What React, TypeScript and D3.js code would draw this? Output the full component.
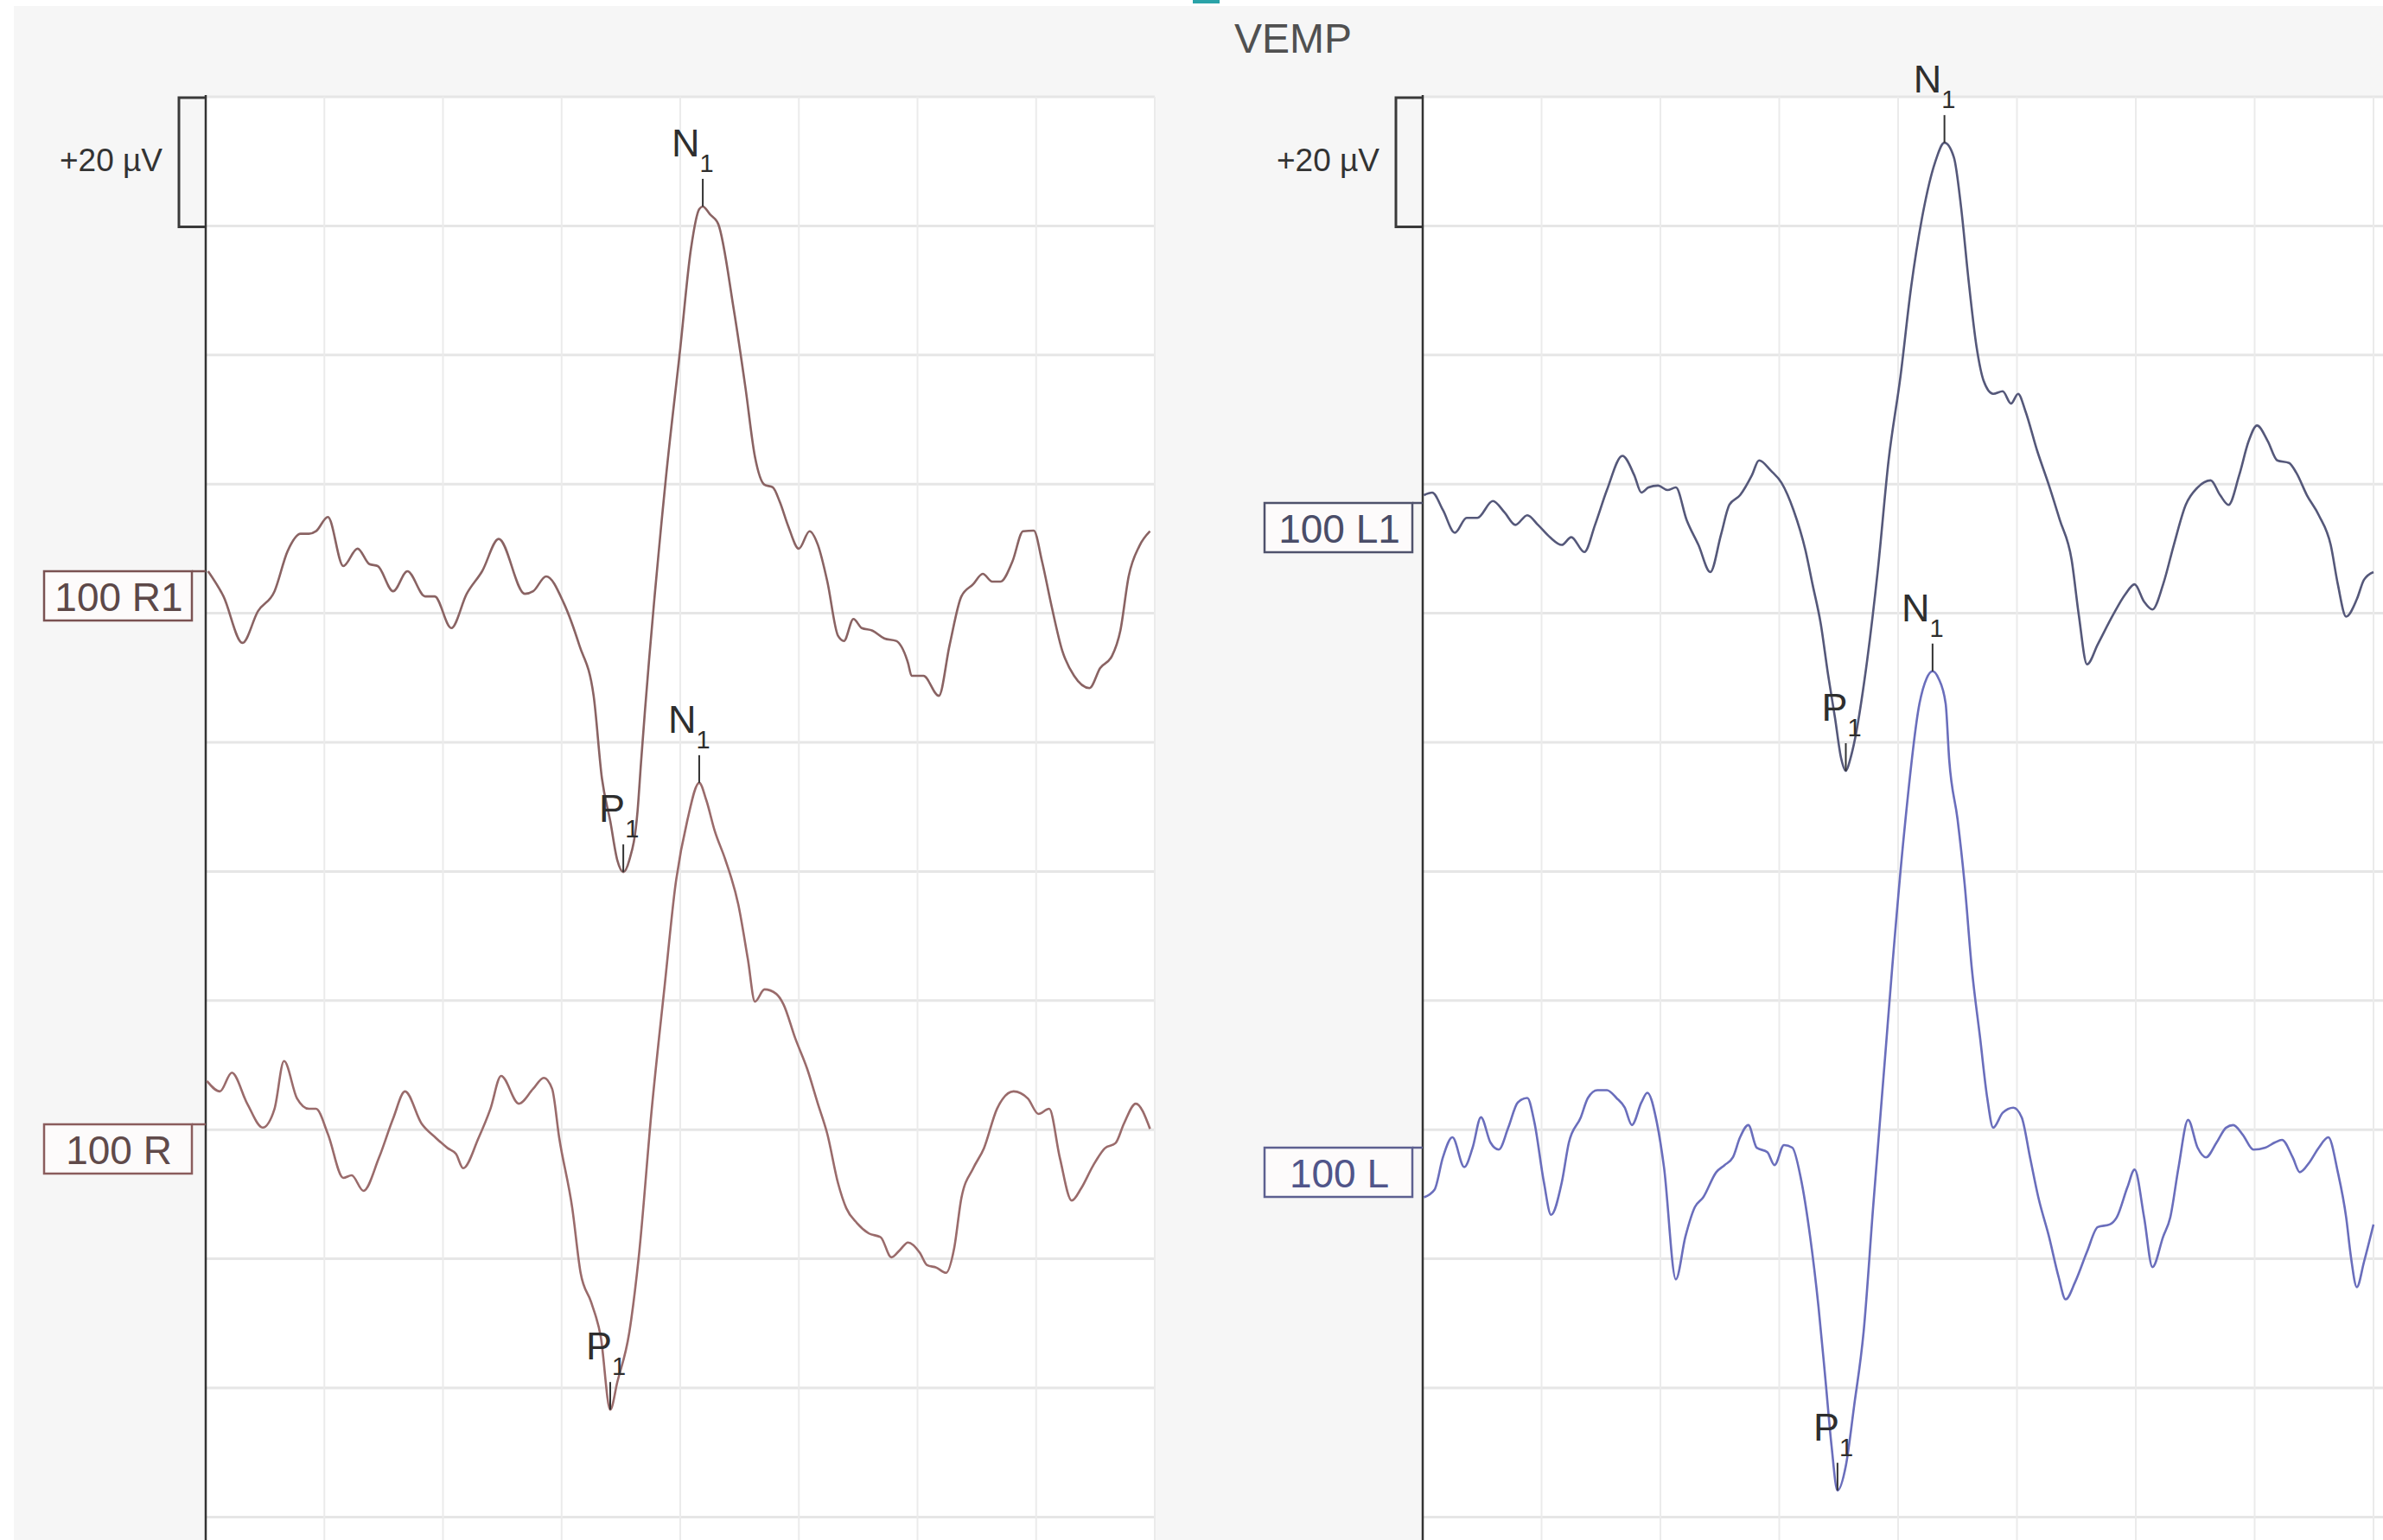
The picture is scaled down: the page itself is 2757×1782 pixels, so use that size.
import React from 'react';
import * as d3 from 'd3';

// traces: [latency ms, amplitude µV]
const traceR1: [number, number][] = [
  [0.2, 0], [1.5, -3.9], [3.1, -11.1], [4.4, -6.2], [5.8, -3.1], [6.9, 3.1], [8.0, 5.8], [8.7, 5.8], [9.3, 6.2],
  [10.3, 8.4], [11.6, 0.8], [12.8, 3.5], [13.8, 1.1], [14.5, 0.8], [15.8, -3.1], [17.0, 0], [18.5, -3.9], [19.3, -3.9],
  [20.7, -8.8], [22.0, -3.5], [23.3, 0], [24.7, 5.0], [26.9, -3.5], [27.6, -3.1], [28.7, -0.8], [30.2, -5.0],
  [31.5, -11.5], [32.7, -19.3], [33.4, -32.1], [34.1, -38.7], [34.7, -44.8], [35.2, -46.6], [35.7, -44.8],
  [36.4, -37.2], [36.7, -29.5], [38.8, 14.6], [40.0, 34.5], [40.9, 49.9], [41.6, 56.1], [41.9, 56.5], [42.5, 55.3],
  [43.2, 53.8], [44.5, 40.7], [45.5, 28.4], [46.3, 17.7], [47.1, 13.4], [47.8, 13.0], [48.4, 10.7], [49.1, 7.0],
  [50.0, 3.5], [50.9, 6.2], [51.6, 4.1], [52.4, -1.6], [53.3, -10.0], [53.8, -10.8], [54.6, -7.4], [55.3, -8.8],
  [56.2, -9.2], [57.2, -10.4], [58.2, -10.8], [59.2, -14.2], [59.5, -16.2], [60.5, -16.2], [61.8, -19.3],
  [62.7, -11.5], [63.7, -3.9], [64.7, -2.0], [65.5, -0.4], [66.3, -1.6], [67.0, -1.6], [68.0, 1.5], [68.9, 6.2],
  [69.8, 6.3], [70.5, 1.5], [71.3, -5.4], [72.2, -12.3], [73.2, -16.2], [74.5, -18.1], [75.4, -15.0], [76.4, -13.1],
  [77.1, -9.2], [77.8, -0.8], [78.7, 3.9], [79.6, 6.2],
];

const traceR: [number, number][] = [
  [0.1, 6.7], [1.2, 5.1], [2.2, 8.0], [3.5, 3.2], [4.8, -0.5], [5.8, 2.4], [6.6, 9.8], [7.7, 4.0], [8.7, 2.4],
  [9.3, 2.4], [10.3, -1.5], [11.6, -8.3], [12.3, -7.9], [13.3, -10.3], [14.6, -5.2], [15.8, 0.9], [16.8, 5.1],
  [18.2, 0.1], [19.4, -2.1], [20.4, -3.7], [21.1, -4.6], [21.7, -6.8], [23.0, -2.1], [24.0, 2.4], [24.9, 7.5],
  [26.4, 3.2], [27.6, 5.5], [28.5, 7.2], [29.2, 5.5], [29.8, -2.1], [30.9, -13.0], [31.6, -23.0], [32.5, -27.6],
  [33.3, -32.9], [34.1, -44.2], [34.7, -39.9], [35.7, -32.3], [36.5, -20.6], [37.6, 2.4], [38.7, 21.7],
  [39.6, 37.1], [40.6, 47.1], [41.6, 52.9], [42.2, 50.2], [42.9, 45.5], [43.8, 41.0], [44.9, 34.0], [45.7, 25.6],
  [46.3, 19.0], [47.1, 20.9], [48.1, 20.2], [48.7, 18.6], [49.7, 13.3], [50.7, 8.6], [51.6, 3.2], [52.4, -1.5],
  [53.3, -9.1], [54.0, -13.0], [54.9, -15.3], [55.9, -16.9], [56.9, -17.5], [57.8, -20.6], [58.5, -19.5],
  [59.2, -18.3], [60.2, -19.9], [60.8, -21.8], [61.6, -22.2], [62.4, -23.0], [63.1, -19.1], [63.7, -11.4],
  [64.7, -6.8], [65.6, -3.7], [66.7, 2.4], [68.1, 5.1], [69.3, 4.0], [70.2, 1.6], [71.1, 2.4], [72.0, -5.2],
  [73.0, -11.8], [73.8, -9.9], [74.8, -6.4], [75.8, -3.7], [76.7, -2.9], [77.4, 0.1], [78.4, 3.2], [79.6, -0.7],
];

const traceL1: [number, number][] = [
  [0.1, 1.2], [0.8, 1.6], [1.7, -1.1], [2.7, -4.6], [3.7, -2.3], [4.6, -2.3], [5.9, 0.3], [6.9, -1.5], [7.8, -3.4],
  [8.8, -1.9], [9.7, -3.4], [10.7, -5.3], [11.7, -6.5], [12.5, -5.3], [13.6, -7.6], [14.5, -3.4], [15.5, 2.0],
  [16.8, 7.3], [17.8, 4.3], [18.4, 1.6], [19.0, 2.4], [19.8, 2.7], [20.6, 2.0], [21.3, 2.4], [22.2, -2.6],
  [23.2, -6.5], [24.2, -10.7], [25.1, -4.9], [25.8, -0.3], [26.7, 1.2], [27.7, 4.3], [28.3, 6.6], [29.3, 5.0],
  [30.2, 3.1], [31.2, -1.1], [32.2, -7.3], [32.8, -12.6], [33.5, -18.8], [34.1, -26.5], [34.7, -33.4],
  [35.2, -39.5], [35.6, -41.5], [36.0, -39.5], [36.3, -37.2], [37.3, -25.7], [38.3, -10.3], [39.2, 6.6],
  [40.2, 19.6], [41.1, 33.5], [42.1, 45.0], [43.1, 52.7], [43.9, 55.8], [44.7, 53.5], [45.3, 45.8], [45.9, 35.0],
  [46.6, 24.2], [47.2, 18.9], [48.0, 16.9], [48.8, 17.3], [49.5, 15.4], [50.1, 16.9], [50.7, 14.3], [51.7, 8.1],
  [52.7, 2.7], [53.6, -2.6], [54.6, -8.8], [55.2, -17.3], [55.9, -25.0], [56.8, -21.9], [58.1, -17.3],
  [59.1, -14.2], [59.9, -12.6], [60.7, -15.3], [61.4, -16.5], [62.3, -12.6], [63.2, -6.5], [64.2, -0.3],
  [65.2, 2.4], [66.3, 3.5], [67.1, 1.2], [67.8, -0.3], [68.7, 4.3], [69.5, 9.6], [70.2, 12.0], [71.1, 9.6],
  [71.9, 6.6], [72.9, 6.2], [73.5, 4.7], [74.4, 1.2], [75.4, -1.9], [76.4, -6.5], [77.0, -12.6], [77.7, -17.6],
  [78.6, -14.9], [79.2, -11.9], [80.0, -10.7],
];

const traceL: [number, number][] = [
  [0.1, -7.7], [1.0, -6.5], [1.7, -1.5], [2.5, 1.6], [3.5, -3.0], [4.2, 0.0], [4.9, 4.7], [5.7, 0.8], [6.4, -0.3],
  [7.2, 3.1], [8.0, 7.0], [8.8, 7.7], [9.4, 3.9], [10.2, -5.4], [10.8, -10.4], [11.7, -5.4], [12.3, 0.8],
  [13.3, 4.7], [13.9, 7.7], [14.7, 8.9], [15.5, 8.9], [16.3, 7.7], [17.0, 6.2], [17.6, 3.5], [18.4, 7.0],
  [18.9, 8.5], [19.7, 3.9], [20.3, -3.0], [21.3, -20.4], [22.1, -13.8], [22.9, -9.2], [23.6, -7.7], [24.7, -3.8],
  [25.4, -2.7], [26.1, -1.5], [26.7, 1.6], [27.4, 3.5], [28.1, 0.0], [29.0, -0.7], [29.6, -2.7], [30.4, 0.4],
  [31.1, 0.0], [31.8, -4.6], [32.6, -13.8], [33.3, -24.6], [33.9, -36.2], [34.4, -46.2], [34.9, -53.1],
  [35.6, -49.3], [36.3, -40.0], [37.1, -28.5], [37.9, -9.2], [38.9, 13.9], [39.5, 27.8], [40.5, 48.6],
  [41.8, 68.8], [42.4, 72.7], [42.9, 73.8], [43.4, 72.7], [44.0, 68.8], [44.3, 60.1], [45.0, 50.9], [45.6, 40.8],
  [46.2, 27.8], [46.9, 17.0], [47.5, 7.7], [48.0, 3.1], [48.8, 5.4], [49.7, 6.2], [50.4, 4.7], [51.1, -1.5],
  [51.8, -7.7], [52.7, -13.8], [53.5, -20.0], [54.1, -23.5], [54.9, -20.8], [55.9, -16.1], [56.8, -12.3],
  [57.8, -11.9], [58.4, -10.8], [59.3, -6.1], [59.9, -3.4], [60.7, -10.8], [61.4, -18.5], [62.3, -13.8],
  [62.9, -10.8], [63.6, -3.0], [64.4, 4.3], [65.2, 0.0], [65.9, -1.5], [66.8, 0.8], [67.6, 3.1], [68.2, 3.5],
  [69.0, 2.0], [69.9, -0.3], [70.9, 0.0], [71.7, 0.8], [72.3, 1.2], [73.2, -1.5], [73.8, -3.8], [74.6, -2.3],
  [75.4, 0.0], [76.2, 1.6], [77.0, -3.8], [77.7, -10.8], [78.1, -16.9], [78.6, -21.6], [79.2, -17.7],
  [80.0, -11.9],
];

// peak markers: [letter, latency ms, amplitude µV]
const peaksR1: [string, number, number][] = [['N', 41.9, 56.5], ['P', 35.2, -46.6]];
const peaksR: [string, number, number][] = [['N', 41.6, 52.9], ['P', 34.1, -44.2]];
const peaksL1: [string, number, number][] = [['N', 43.9, 55.8], ['P', 35.6, -41.5]];
const peaksL: [string, number, number][] = [['N', 42.9, 73.8], ['P', 34.9, -53.1]];

const channelNames = ['100 R1', '100 R', '100 L1', '100 L'];
const title = 'VEMP';
const calLabel = '+20 µV';
const calValue = 20; // µV per grid division
const timeTicks = [0, 10, 20, 30, 40, 50, 60, 70, 80];

const W = 2757;
const H = 1782;
const TOP = 112;
const DIV = 149.4; // px per 20 µV
const FONT = '"Liberation Sans", Arial, Helvetica, sans-serif';

const panels = [
  { x0: 238, x1: 1336, edge: 1336, boxX: 51 },
  { x0: 1646, x1: 2746, edge: W, boxX: 1463 },
];

const channels = [
  { name: channelNames[0], data: traceR1, peaks: peaksR1, panel: 0, base: 661, color: '#8a6363', box: '#7a5252', text: '#5c4848' },
  { name: channelNames[1], data: traceR, peaks: peaksR, panel: 0, base: 1301, color: '#9a6b6b', box: '#8a5c5c', text: '#604a4a' },
  { name: channelNames[2], data: traceL1, peaks: peaksL1, panel: 1, base: 582, color: '#55587a', box: '#4f526c', text: '#4a4d68' },
  { name: channelNames[3], data: traceL, peaks: peaksL, panel: 1, base: 1328, color: '#6a6ebc', box: '#5d6090', text: '#50558a' },
];

const gridRows = d3.range(0, 12);

export default function App() {
  const xScales = panels.map(p => d3.scaleLinear().domain([0, 80]).range([p.x0, p.x1]));

  return (
    <svg width={W} height={H} style={{ position: 'absolute', left: 0, top: 0, display: 'block' }} fontFamily={FONT}>
      <rect x={0} y={0} width={W} height={H} fill="#ffffff" />
      <rect x={16} y={7} width={W - 16} height={H - 7} fill="#f6f6f6" />
      <rect x={1380} y={0} width={31} height={4} fill="#2aa3a8" />

      <text x={1428} y={61} fontSize={48} fill="#505050">{title}</text>

      {panels.map((p, i) => {
        const xs = xScales[i];
        return (
          <g key={'panel' + i}>
            <rect x={p.x0} y={TOP} width={p.edge - p.x0} height={H - TOP} fill="#ffffff" />
            {gridRows.map(k => (
              <line key={'h' + k} x1={p.x0} x2={p.edge} y1={TOP + k * DIV} y2={TOP + k * DIV}
                stroke="#e6e6e6" strokeWidth={3} />
            ))}
            {timeTicks.slice(1).map(t => (
              <line key={'v' + t} x1={xs(t)} x2={xs(t)} y1={TOP} y2={H} stroke="#ebebeb" strokeWidth={2} />
            ))}
            <line x1={p.x0} x2={p.x0} y1={TOP - 2} y2={H} stroke="#333" strokeWidth={2.5} />
            <path d={`M${p.x0 - 1},${TOP + 1}H${p.x0 - 31}V${TOP + 1 + DIV}H${p.x0 - 1}`}
              fill="none" stroke="#3a3a3a" strokeWidth={3} />
            <text x={p.x0 - 50} y={198} fontSize={37} fill="#333" textAnchor="end">{calLabel}</text>
          </g>
        );
      })}

      {channels.map((c, i) => {
        const p = panels[c.panel];
        const xs = xScales[c.panel];
        const ys = d3.scaleLinear().domain([0, calValue]).range([c.base, c.base - DIV]);
        const line = d3.line<[number, number]>()
          .x(d => xs(d[0]))
          .y(d => ys(d[1]))
          .curve(d3.curveMonotoneX);
        const bw = 171;
        const bh = 57;
        return (
          <g key={'ch' + i}>
            <line x1={p.boxX + bw} x2={p.x0} y1={c.base} y2={c.base} stroke={c.box} strokeWidth={2.5} />
            <rect x={p.boxX} y={c.base} width={bw} height={bh} fill="#fdfbfb" stroke={c.box} strokeWidth={2.5} />
            <text x={p.boxX + bw / 2 + 1} y={c.base + 46} fontSize={46} fill={c.text} textAnchor="middle">{c.name}</text>
            <path d={line(c.data) || ''} fill="none" stroke={c.color} strokeWidth={2.6} strokeLinejoin="round" />
            {c.peaks.map(([lab, t, v]) => {
              const px = xs(t);
              const py = ys(v);
              return (
                <g key={lab}>
                  <line x1={px} x2={px} y1={py} y2={py - 32} stroke="#333" strokeWidth={2} />
                  <text x={px - (lab === 'N' ? 36 : 28)} y={py - 58} fontSize={45} fill="#2e2e2e">
                    {lab}
                    <tspan fontSize={29} dy={18}>1</tspan>
                  </text>
                </g>
              );
            })}
          </g>
        );
      })}
    </svg>
  );
}
